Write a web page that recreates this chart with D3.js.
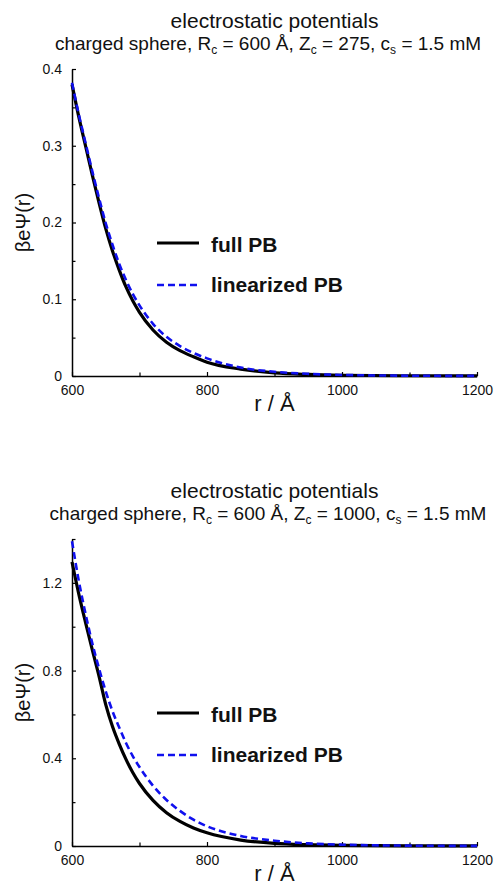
<!DOCTYPE html>
<html>
<head>
<meta charset="utf-8">
<script src="https://cdn.jsdelivr.net/npm/d3@7"></script>
<style>
  body { margin: 0; background: #fff; }
  svg { display: block; font-family: "Liberation Sans", Arial, sans-serif; }
  .axis path { stroke: #000; stroke-width: 1.5px; }
  .axis line { stroke: #000; stroke-width: 1.2px; }
  .axis text { font-size: 14px; fill: #111; font-family: "Liberation Sans", Arial, sans-serif; }
</style>
</head>
<body>
<div id="chart"></div>
<script>
// radius r in Angstrom, shared by both panels
var radius = [600, 610, 620, 630, 640, 650, 660, 670, 680, 690, 700, 720, 740, 760, 780, 800, 850, 900, 950, 1000, 1100, 1200];

// panel 1: Zc = 275
var fullPB275 = [0.380, 0.338, 0.300, 0.262, 0.226, 0.192, 0.163, 0.138, 0.116, 0.098, 0.083, 0.060, 0.044, 0.033, 0.025, 0.018, 0.009, 0.004, 0.002, 0.001, 0.0003, 0.0001];
var linPB275  = [0.382, 0.341, 0.304, 0.267, 0.232, 0.199, 0.171, 0.146, 0.125, 0.107, 0.092, 0.068, 0.051, 0.039, 0.030, 0.023, 0.011, 0.0055, 0.0028, 0.0014, 0.0004, 0.0001];

// panel 2: Zc = 1000
var fullPB1000 = [1.295, 1.150, 1.020, 0.895, 0.775, 0.645, 0.545, 0.465, 0.395, 0.335, 0.285, 0.208, 0.152, 0.112, 0.082, 0.060, 0.027, 0.012, 0.006, 0.003, 0.0007, 0.0002];
var linPB1000  = [1.390, 1.210, 1.060, 0.925, 0.810, 0.705, 0.615, 0.540, 0.470, 0.410, 0.360, 0.275, 0.210, 0.160, 0.120, 0.090, 0.046, 0.024, 0.012, 0.006, 0.0016, 0.0004];

var xTicks = [600, 800, 1000, 1200];
var xMinor = [700, 900, 1100];
var seriesNames = ["full PB", "linearized PB"];

var panels = [
  {zc: "275", ymax: 0.4, yTicks: [0, 0.1, 0.2, 0.3, 0.4], yMinor: [0.05, 0.15, 0.25, 0.35],
   full: fullPB275, lin: linPB275},
  {zc: "1000", ymax: 1.4, yTicks: [0, 0.4, 0.8, 1.2], yMinor: [0.2, 0.6, 1.0, 1.4],
   full: fullPB1000, lin: linPB1000}
];

var W = 495, H = 886;
var svg = d3.select("#chart").append("svg")
  .attr("width", W)
  .attr("height", H);

var margin = {left: 72, top: 69},
    width = 405,
    height = 307;

var x = d3.scaleLinear().domain([600, 1200]).range([0, width]);

panels.forEach(function(p, i) {
  var top = i * 470;
  var g = svg.append("g").attr("transform", "translate(0," + top + ")");

  // titles
  g.append("text")
    .attr("x", 274.5).attr("y", 28)
    .attr("text-anchor", "middle")
    .style("font-size", "21px").style("fill", "#111")
    .text("electrostatic potentials");

  var sub = g.append("text")
    .attr("x", 268).attr("y", 50)
    .attr("text-anchor", "middle")
    .style("font-size", "19px").style("fill", "#111");
  sub.append("tspan").text("charged sphere, R");
  sub.append("tspan").attr("dy", 4).style("font-size", "12px").text("c");
  sub.append("tspan").attr("dy", -4).text(" = 600 Å, Z");
  sub.append("tspan").attr("dy", 4).style("font-size", "12px").text("c");
  sub.append("tspan").attr("dy", -4).text(" = " + p.zc + ", c");
  sub.append("tspan").attr("dy", 4).style("font-size", "12px").text("s");
  sub.append("tspan").attr("dy", -4).text(" = 1.5 mM");

  var plot = g.append("g").attr("transform", "translate(" + margin.left + "," + margin.top + ")");

  var y = d3.scaleLinear().domain([0, p.ymax]).range([height, 0]);

  // minor ticks first
  plot.append("g").attr("class", "axis")
    .call(d3.axisLeft(y).tickValues(p.yMinor).tickSizeInner(-3.5).tickSizeOuter(0).tickFormat(""))
    .select(".domain").remove();
  plot.append("g").attr("class", "axis")
    .attr("transform", "translate(0," + height + ")")
    .call(d3.axisBottom(x).tickValues(xMinor).tickSizeInner(-3.5).tickSizeOuter(0).tickFormat(""))
    .select(".domain").remove();

  plot.append("g").attr("class", "axis")
    .call(d3.axisLeft(y).tickValues(p.yTicks).tickSizeInner(-4).tickSizeOuter(0).tickPadding(10)
      .tickFormat(d3.format("~g")));
  plot.append("g").attr("class", "axis")
    .attr("transform", "translate(0," + height + ")")
    .call(d3.axisBottom(x).tickValues(xTicks).tickSizeInner(-4).tickSizeOuter(0).tickPadding(9)
      .tickFormat(d3.format("d")));

  // axis labels
  g.append("text")
    .attr("transform", "translate(30," + (margin.top + height / 2) + ") rotate(-90)")
    .attr("text-anchor", "middle")
    .style("font-size", "20px").style("fill", "#111")
    .text("βeΨ(r)");
  g.append("text")
    .attr("x", margin.left + width / 2).attr("y", margin.top + height + 35)
    .attr("text-anchor", "middle")
    .style("font-size", "22px").style("fill", "#111")
    .text("r / Å");

  var line = d3.line()
    .curve(d3.curveMonotoneX)
    .x(function(d, k) { return x(radius[k]); })
    .y(function(d) { return y(d); });

  plot.append("path")
    .datum(p.full)
    .attr("fill", "none")
    .attr("stroke", "#000")
    .attr("stroke-width", 3.2)
    .attr("d", line);
  plot.append("path")
    .datum(p.lin)
    .attr("fill", "none")
    .attr("stroke", "#1010ee")
    .attr("stroke-width", 2.6)
    .attr("stroke-dasharray", "7,4")
    .attr("d", line);

  // legend
  var lg = g.append("g");
  var rows = [{name: seriesNames[0], ly: 243, ty: 252, color: "#000", sw: 3.2, dash: null},
              {name: seriesNames[1], ly: 285, ty: 292, color: "#1010ee", sw: 2.6, dash: "7,4"}];
  rows.forEach(function(r) {
    lg.append("line")
      .attr("x1", 157).attr("x2", 199)
      .attr("y1", r.ly).attr("y2", r.ly)
      .attr("stroke", r.color)
      .attr("stroke-width", r.sw)
      .attr("stroke-dasharray", r.dash);
    lg.append("text")
      .attr("x", 211).attr("y", r.ty)
      .style("font-size", "21px").style("font-weight", "bold").style("fill", "#111")
      .text(r.name);
  });
});
</script>
</body>
</html>
